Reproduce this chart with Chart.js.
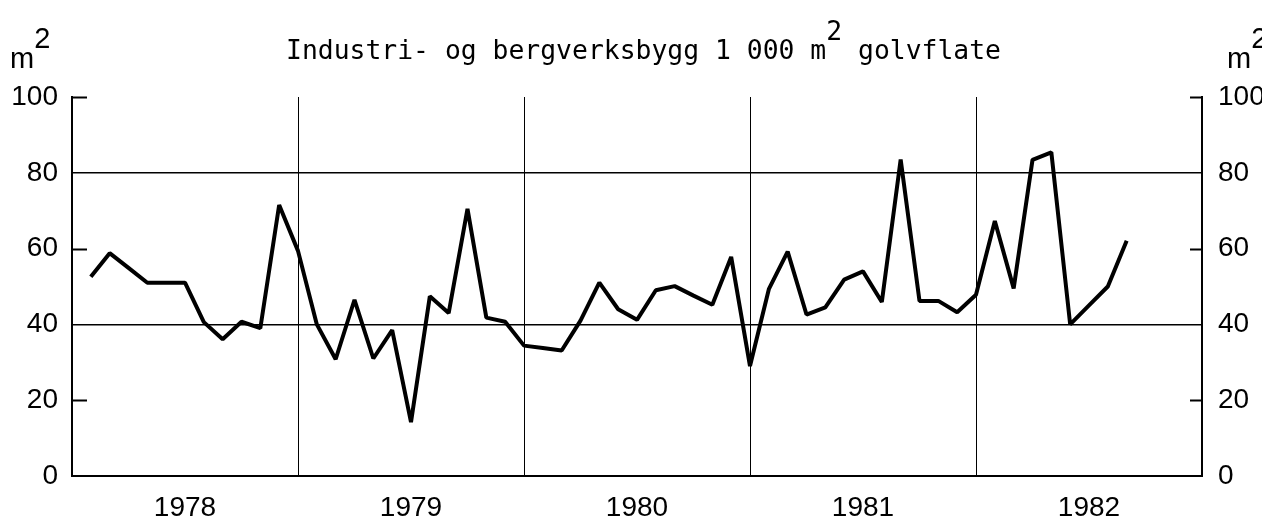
<!DOCTYPE html>
<html>
<head>
<meta charset="utf-8">
<title>Industri- og bergverksbygg</title>
<script src="https://cdn.jsdelivr.net/npm/chart.js@4.4.0/dist/chart.umd.min.js"></script>
<style>
    html, body { margin: 0; padding: 0; background: #fff; }
    #wrap { position: relative; width: 1262px; height: 522px; overflow: hidden; }
    .txt { position: absolute; color: #000; white-space: pre; line-height: 1; }
    #titulo { left: 286px; top: 37px; font-family: "DejaVu Sans Mono", monospace; font-size: 26.4px; }
    #titulo .sup { position: relative; top: -19px; }
    .unidad { top: 44px; font-family: "Liberation Sans", Arial, sans-serif; font-size: 29px; }
    .unidad .sup { position: relative; top: -20px; }
</style>
</head>
<body>
<div id="wrap">
    <canvas id="graficoBygg" width="1262" height="522"></canvas>
    <div class="txt" id="titulo">Industri- og bergverksbygg 1 000 m<span class="sup">2</span> golvflate</div>
    <div class="txt unidad" style="left: 10px;">m<span class="sup">2</span></div>
    <div class="txt unidad" style="left: 1227px;">m<span class="sup">2</span></div>
</div>
<script>
    // årstal under x-aksen (midt i kvart år)
    const years = ['1978', '1979', '1980', '1981', '1982'];

    // månadsnummer frå jan 1978 (1 = slutten av første månad)
    const months = [
        1, 2, 3, 4, 5, 6, 7, 8, 9, 10, 11, 12,
        13, 14, 15, 16, 17, 18, 19, 20, 21, 22, 23, 24,
        25, 26, 27, 28, 29, 30, 31, 32, 33, 34, 35, 36,
        37, 38, 39, 40, 41, 42, 43, 44, 45, 46, 47, 48,
        49, 50, 51, 52, 53, 54, 55, 56
    ];

    // 1 000 m2 golvflate
    const values = [
        52.6, 58.8, 54.9, 51, 51, 51, 40.6, 36.1, 40.7, 39, 71.5, 59.4,
        40, 30.8, 46.5, 31, 38.5, 14.2, 47.4, 43, 70.5, 41.8, 40.7, 34.4,
        33.8, 33.1, 41, 51, 44, 41.2, 49, 50.1, 47.6, 45.2, 57.8, 29,
        49.3, 59.2, 42.6, 44.5, 51.8, 54, 45.9, 83.5, 46.2, 46.2, 43.2, 47.8,
        67.3, 49.5, 83.4, 85.4, 40, 45, 50, 62.1
    ];

    const yGridLines = [40, 80];      // heile linjer
    const yTickMarks = [20, 60, 100]; // korte merke innover
    const yearLines = [12, 24, 36, 48];

    const fontAxis = { family: '"Liberation Sans", Arial, sans-serif', size: 28 };

    // korte merke som peikar inn i diagrammet
    const merkeInnover = {
        id: 'merkeInnover',
        beforeDatasetsDraw(chart) {
            const ctx = chart.ctx;
            const area = chart.chartArea;
            const y = chart.scales.y;
            ctx.save();
            ctx.strokeStyle = '#000';
            ctx.lineWidth = 2;
            yTickMarks.forEach(v => {
                const py = Math.round(y.getPixelForValue(v)) + 0.5;
                ctx.beginPath();
                ctx.moveTo(area.left, py);
                ctx.lineTo(area.left + 15, py);
                ctx.moveTo(area.right - 12, py);
                ctx.lineTo(area.right, py);
                ctx.stroke();
            });
            ctx.restore();
        }
    };

    new Chart(document.getElementById('graficoBygg'), {
        type: 'line',
        data: {
            datasets: [{
                data: months.map((m, i) => ({ x: m, y: values[i] })),
                borderColor: '#000',
                borderWidth: 4,
                borderJoinStyle: 'bevel',
                pointRadius: 0,
                tension: 0,
                fill: false
            }]
        },
        options: {
            responsive: false,
            animation: false,
            layout: { padding: { top: 97, left: 0, right: 0, bottom: 0 } },
            plugins: {
                legend: { display: false },
                tooltip: { enabled: false }
            },
            scales: {
                x: {
                    type: 'linear',
                    min: 0,
                    max: 60,
                    afterFit: s => { s.height = 46; },
                    afterBuildTicks: s => {
                        s.ticks = [0, 6, 12, 18, 24, 30, 36, 42, 48, 54, 60].map(v => ({ value: v }));
                    },
                    ticks: {
                        autoSkip: false,
                        maxRotation: 0,
                        padding: 15,
                        color: '#000',
                        font: fontAxis,
                        callback: v => (v % 12 === 6 ? years[(v - 6) / 12] : '')
                    },
                    grid: {
                        drawTicks: false,
                        lineWidth: 1,
                        color: c => (c.tick && yearLines.includes(c.tick.value) ? '#000' : 'rgba(0,0,0,0)')
                    },
                    border: { display: true, color: '#000', width: 2 }
                },
                y: {
                    position: 'left',
                    min: 0,
                    max: 100,
                    afterFit: s => { s.width = 72; },
                    ticks: {
                        stepSize: 20,
                        padding: 14,
                        color: '#000',
                        font: fontAxis
                    },
                    grid: {
                        drawTicks: false,
                        lineWidth: 1.5,
                        color: c => (c.tick && yGridLines.includes(c.tick.value) ? '#000' : 'rgba(0,0,0,0)')
                    },
                    border: { display: true, color: '#000', width: 2 }
                },
                y2: {
                    position: 'right',
                    min: 0,
                    max: 100,
                    afterFit: s => { s.width = 60; },
                    ticks: {
                        stepSize: 20,
                        padding: 16,
                        color: '#000',
                        font: fontAxis
                    },
                    grid: { display: false, drawTicks: false },
                    border: { display: true, color: '#000', width: 2 }
                }
            }
        },
        plugins: [merkeInnover]
    });
</script>
</body>
</html>
